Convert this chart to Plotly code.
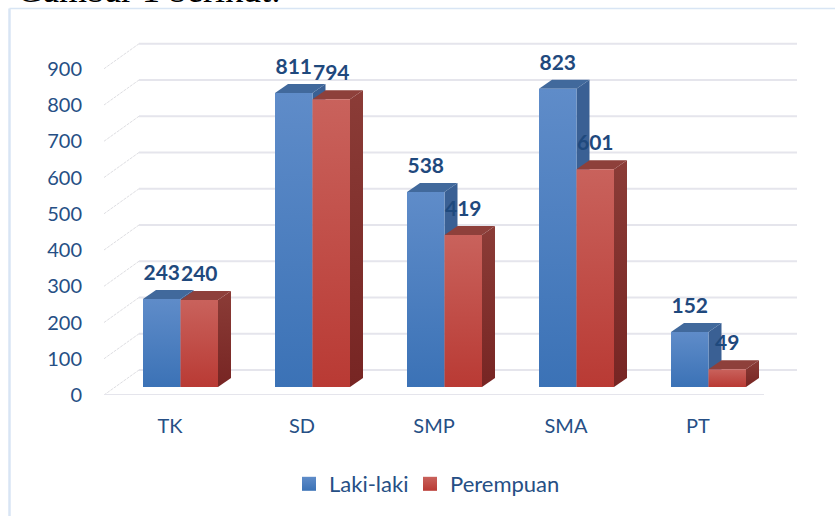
import plotly.graph_objects as go

categories = ["TK", "SD", "SMP", "SMA", "PT"]
laki = [243, 811, 538, 823, 152]
perempuan = [240, 794, 419, 601, 49]
tick_values = [0, 100, 200, 300, 400, 500, 600, 700, 800, 900]

W, H = 835, 516
L, R, T, B = 104, 35, 30, 121
PX_X = 132.0      # px per category
PX_Y = 0.3625     # px per value unit
dx = lambda p: p / PX_X
dy = lambda p: p / PX_Y

BAR_W = dx(37.5)
SHIFT_X, SHIFT_Y = dx(10.5), dy(8)      # bar plane relative to the front floor edge
DEPTH_X, DEPTH_Y = dx(13), dy(9)        # bar depth
BACK_X, BACK_Y = dx(35), dy(25)         # back wall relative to front floor edge
BACK_END = dx(693)

TEXT = "#264F85"
LABEL = "#1F497D"
GRID = "#E5E5EC"
DIAG = "#DEDEE2"
FRAME = "#D8E5F4"

STYLES = {
    "blue": dict(front=("#3B72B6", "#5F8CC9"), top="#41699C", side="#3A6094"),
    "red": dict(front=("#B93A34", "#C9625C"), top="#8E403B", side=("#772523", "#8B3C37")),
}

fig = go.Figure()


def poly(xs, ys, color, name):
    kw = dict(x=xs + xs[:1], y=ys + ys[:1], mode="lines", line=dict(width=0),
              fill="toself", hoverinfo="skip", showlegend=False, name=name, cliponaxis=False)
    if isinstance(color, tuple):
        kw["fillgradient"] = dict(type="vertical", colorscale=[[0, color[0]], [1, color[1]]])
        kw["fillcolor"] = color[1]
    else:
        kw["fillcolor"] = color
    fig.add_trace(go.Scatter(**kw))


# back wall gridlines and left-wall diagonals
for v in tick_values:
    fig.add_trace(go.Scatter(x=[-0.5, -0.5 + BACK_X], y=[v, v + BACK_Y], mode="lines",
                             line=dict(color=DIAG, width=1, dash="3px,1px"), hoverinfo="skip",
                             showlegend=False, cliponaxis=False))
    fig.add_trace(go.Scatter(x=[-0.5 + BACK_X, -0.5 + BACK_END], y=[v + BACK_Y, v + BACK_Y], mode="lines",
                             line=dict(color=GRID, width=2), hoverinfo="skip",
                             showlegend=False, cliponaxis=False))
# floor front edge
fig.add_trace(go.Scatter(x=[-0.5, 4.5], y=[0, 0], mode="lines", line=dict(color=GRID, width=2),
                         hoverinfo="skip", showlegend=False, cliponaxis=False))


def bar3d(i, v, offset, st, name):
    x0 = i + SHIFT_X + offset
    x1 = x0 + BAR_W
    b, t = SHIFT_Y, SHIFT_Y + v
    poly([x1, x1 + DEPTH_X, x1 + DEPTH_X, x1], [b, b + DEPTH_Y, t + DEPTH_Y, t], st["side"], name + " side")
    poly([x0, x1, x1 + DEPTH_X, x0 + DEPTH_X], [t, t, t + DEPTH_Y, t + DEPTH_Y], st["top"], name + " top")
    poly([x0, x1, x1, x0], [b, b, t, t], st["front"], name)


for i, (a, c) in enumerate(zip(laki, perempuan)):
    bar3d(i, a, -BAR_W, STYLES["blue"], "Laki-laki")
    bar3d(i, c, 0, STYLES["red"], "Perempuan")

# data labels
for vals, off in ((laki, -BAR_W / 2), (perempuan, BAR_W / 2)):
    fig.add_trace(go.Scatter(
        x=[i + SHIFT_X + off for i in range(len(vals))],
        y=[v + SHIFT_Y + DEPTH_Y + dy(15) for v in vals],
        mode="text", text=[str(v) for v in vals], textposition="middle center",
        textfont=dict(family="Lato", size=21, color=LABEL, weight="bold"),
        hoverinfo="skip", showlegend=False, cliponaxis=False))

# legend entries
for name, col, col2, lg in (("Laki-laki", "#5F8CC9", "#3B72B6", "legend"),
                            ("Perempuan", "#C9625C", "#B93A34", "legend2")):
    fig.add_trace(go.Scatter(x=[None], y=[None], mode="markers", name=name, legend=lg,
                             marker=dict(symbol="square", size=14, color=col,
                                         gradient=dict(type="vertical", color=col2))))


def px_x(p):
    return p / W


def px_y(p):
    return 1 - p / H


# page frame
fig.add_shape(type="line", xref="paper", yref="paper", x0=px_x(9.5), x1=px_x(835), y0=px_y(8.5), y1=px_y(8.5),
              line=dict(color=FRAME, width=1.5), layer="below")
fig.add_shape(type="line", xref="paper", yref="paper", x0=px_x(9.5), x1=px_x(9.5), y0=px_y(8.5), y1=px_y(516),
              line=dict(color=FRAME, width=2.5), layer="below")

legend_common = dict(orientation="h", y=px_y(484), yanchor="middle", xanchor="left",
                     font=dict(family="Lato", size=22, color=TEXT), bgcolor="rgba(0,0,0,0)",
                     itemclick=False, itemdoubleclick=False)

fig.update_layout(
    width=W, height=H, margin=dict(l=0, r=0, t=0, b=0, pad=0, autoexpand=False),
    paper_bgcolor="white", plot_bgcolor="rgba(0,0,0,0)",
    font=dict(family="Lato", size=20, color=TEXT),
    title=dict(text="Gambar 1 berikut:", x=17 / W, xanchor="left", y=1 - 2 / H, yanchor="bottom",
               xref="container", yref="container",
               font=dict(family="Liberation Serif", size=36, color="#000000")),
    xaxis=dict(domain=[L / W, (W - R) / W],
               range=[-0.5, -0.5 + (W - L - R) / PX_X], tickmode="array", tickvals=list(range(len(categories))),
               ticktext=categories, showgrid=False, zeroline=False, showline=False,
               ticks="", ticklabelstandoff=17, fixedrange=True),
    yaxis=dict(domain=[B / H, (H - T) / H],
               range=[0, (H - T - B) / PX_Y], tickmode="array", tickvals=tick_values,
               showgrid=False, zeroline=False, showline=False, ticks="", ticklabelstandoff=21, fixedrange=True),
    legend=dict(x=px_x(289), **legend_common),
    legend2=dict(x=px_x(410), **legend_common),
    showlegend=True,
)

fig.write_html("out.html", config={"displayModeBar": False},
               post_script="document.body.style.margin='0';document.body.style.overflow='hidden';")
